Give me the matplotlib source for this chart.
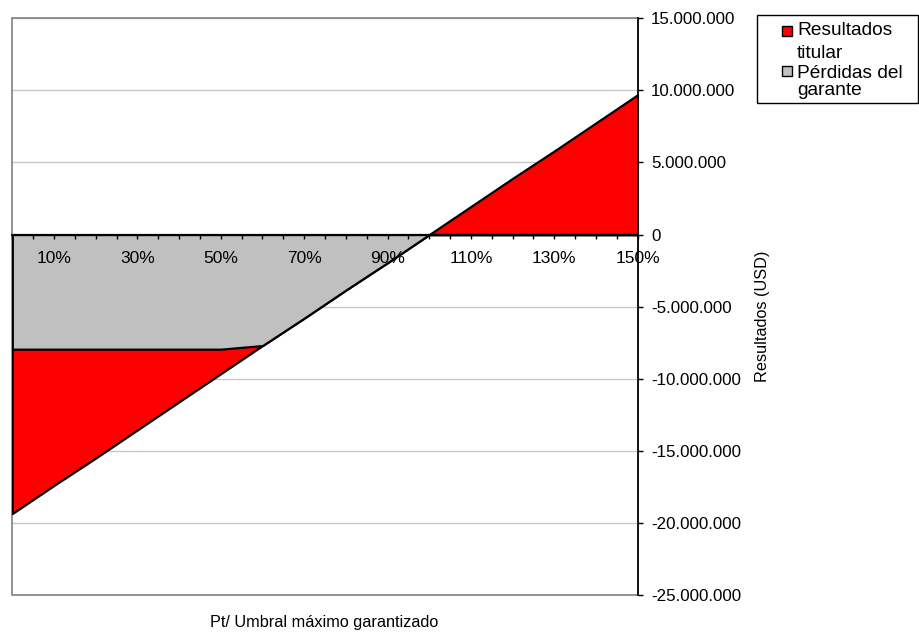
import numpy as np
import matplotlib.pyplot as plt
from matplotlib.patches import Rectangle

plt.rcParams['font.family'] = ['Liberation Sans', 'DejaVu Sans']

# Pt / umbral (%) y resultados en USD
pct = [0, 10, 20, 30, 40, 50, 60, 70, 80, 90, 100, 110, 120, 130, 140, 150]
resultado_titular = [-19.35e6, -17.4e6, -15.5e6, -13.55e6, -11.6e6, -9.65e6,
                     -7.7e6, -5.8e6, -3.85e6, -1.95e6, 0, 1.95e6, 3.9e6,
                     5.8e6, 7.75e6, 9.7e6]
perdida_garante = [-7.95e6, -7.95e6, -7.95e6, -7.95e6, -7.95e6, -7.95e6,
                   -7.7e6, -5.8e6, -3.85e6, -1.95e6, 0, 0, 0, 0, 0, 0]

x_label_pos = [10, 30, 50, 70, 90, 110, 130, 150]
x_labels = ['10%', '30%', '50%', '70%', '90%', '110%', '130%', '150%']
y_ticks = [-25e6, -20e6, -15e6, -10e6, -5e6, 0, 5e6, 10e6, 15e6]
y_labels = ['-25.000.000', '-20.000.000', '-15.000.000', '-10.000.000',
            '-5.000.000', '0', '5.000.000', '10.000.000', '15.000.000']

W, H = 919, 635
fig = plt.figure(figsize=(W / 100, H / 100), dpi=100)
ax = fig.add_axes([12.3 / W, 40 / H, 625.4 / W, 576.7 / H])

# areas: titular detras, garante delante
ax.fill_between(pct, resultado_titular, 0, facecolor='#ff0000',
                edgecolor='black', linewidth=1.6, zorder=2)
ax.fill_between(pct, perdida_garante, 0, facecolor='#c0c0c0',
                edgecolor='black', linewidth=1.6, zorder=3)

ax.set_xlim(0, 150)
ax.set_ylim(-25e6, 15e6)

# rejilla horizontal
for v in y_ticks:
    ax.axhline(v, color='#c8c8c8', linewidth=1, zorder=1)

# borde del area de trazado
ax.add_patch(Rectangle((0, 0), 1, 1, transform=ax.transAxes, fill=False,
                       edgecolor='#808080', linewidth=1.2, zorder=1,
                       clip_on=False))

ax.spines['top'].set_visible(False)
ax.spines['left'].set_visible(False)
ax.spines['right'].set_color('black')
ax.spines['right'].set_linewidth(1.2)
ax.spines['right'].set_zorder(5)
ax.spines['bottom'].set_position(('data', 0))
ax.spines['bottom'].set_color('black')
ax.spines['bottom'].set_linewidth(1.3)
ax.spines['bottom'].set_zorder(5)
ax.xaxis.set_zorder(6)
ax.yaxis.set_zorder(6)

ax.yaxis.tick_right()
ax.set_yticks(y_ticks)
ax.set_yticklabels(y_labels)
ax.tick_params(axis='y', direction='out', length=3.5, width=1, pad=6,
               labelsize=12.2, color='black')

ticks_x = np.arange(0, 151, 5)
ax.set_xticks(ticks_x)
ax.set_xticklabels(['' if t not in x_label_pos else x_labels[x_label_pos.index(t)]
                    for t in ticks_x])
ax.tick_params(axis='x', direction='out', length=3.2, width=1, pad=8.5,
               labelsize=12.5, color='black')

fig.text(324 / W, 1 - 622 / H, 'Pt/ Umbral máximo garantizado',
         ha='center', va='center', fontsize=11.7)
fig.text(763 / W, 1 - 316 / H, 'Resultados (USD)', rotation=90,
         ha='center', va='center', fontsize=11.7)

# leyenda
fig.add_artist(Rectangle((757 / W, 1 - 103 / H), 161 / W, 88 / H,
                         transform=fig.transFigure, fill=False,
                         edgecolor='black', linewidth=1))
fig.add_artist(Rectangle((782 / W, 1 - 36 / H), 10 / W, 10 / H,
                         transform=fig.transFigure, facecolor='#ff0000',
                         edgecolor='black', linewidth=1))
fig.add_artist(Rectangle((782 / W, 1 - 76 / H), 10 / W, 10 / H,
                         transform=fig.transFigure, facecolor='#c0c0c0',
                         edgecolor='black', linewidth=1))
for txt, base in [('Resultados', 35), ('titular', 58),
                  ('Pérdidas del', 78), ('garante', 95)]:
    fig.text(797 / W, 1 - base / H, txt, va='baseline', ha='left',
             fontsize=13.8)

fig.savefig('out.png', dpi=100)
